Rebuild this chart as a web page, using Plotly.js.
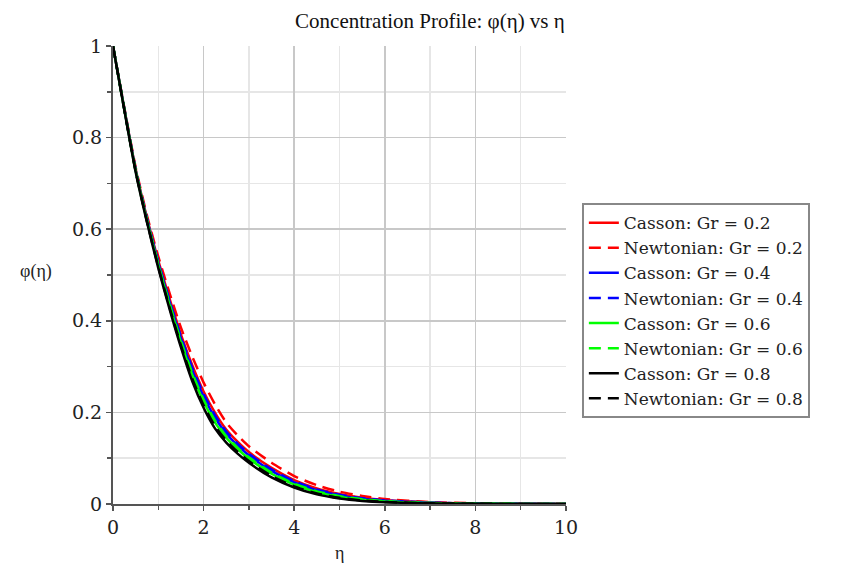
<!DOCTYPE html>
<html>
<head>
<meta charset="utf-8">
<script src="https://cdn.plot.ly/plotly-3.0.1.min.js"></script>
<style>html,body{margin:0;padding:0;background:#fff;}#chart{width:848px;height:567px;}</style>
</head>
<body>
<div id="chart"></div>
<script>
const eta = [0, 0.25, 0.5, 0.75, 1, 1.25, 1.5, 1.75, 2, 2.25, 2.5, 2.75, 3, 3.5, 4, 4.5, 5, 5.5, 6, 7, 8, 9, 10];

const cassonGr02    = [1, 0.8633, 0.7315, 0.6248, 0.5313, 0.4478, 0.3700, 0.3031, 0.2458, 0.1995, 0.1626, 0.136, 0.1134, 0.0788, 0.0523, 0.034, 0.0218, 0.0138, 0.0085, 0.0032, 0.0011, 0.0004, 0];
const newtonianGr02 = [1, 0.865, 0.735, 0.630, 0.540, 0.460, 0.385, 0.322, 0.265, 0.218, 0.178, 0.150, 0.126, 0.090, 0.061, 0.041, 0.027, 0.0175, 0.011, 0.0042, 0.0015, 0.0005, 0];
const cassonGr04    = [1, 0.8623, 0.7295, 0.6218, 0.5263, 0.4408, 0.3614, 0.2923, 0.2348, 0.1889, 0.1538, 0.128, 0.1062, 0.0724, 0.0473, 0.030, 0.0188, 0.0116, 0.007, 0.0026, 0.0009, 0.0003, 0];
const newtonianGr04 = [1, 0.8628, 0.7305, 0.6233, 0.5288, 0.4443, 0.3657, 0.2977, 0.2403, 0.1942, 0.1582, 0.132, 0.1098, 0.0756, 0.0498, 0.032, 0.0203, 0.0127, 0.0078, 0.0029, 0.0010, 0.0003, 0];
const cassonGr06    = [1, 0.8613, 0.7275, 0.6188, 0.5213, 0.4338, 0.3528, 0.2815, 0.2238, 0.1783, 0.145, 0.120, 0.099, 0.066, 0.0423, 0.026, 0.0158, 0.0095, 0.0056, 0.002, 0.0007, 0.0002, 0];
const newtonianGr06 = [1, 0.8617, 0.7283, 0.620, 0.5233, 0.4366, 0.3562, 0.2858, 0.2282, 0.1825, 0.1485, 0.1232, 0.1019, 0.0686, 0.0443, 0.0276, 0.017, 0.0103, 0.0062, 0.0022, 0.0008, 0.0002, 0];
const cassonGr08    = [1, 0.860, 0.725, 0.615, 0.515, 0.425, 0.342, 0.268, 0.210, 0.165, 0.134, 0.110, 0.090, 0.058, 0.036, 0.021, 0.012, 0.0068, 0.0038, 0.0012, 0.0004, 0.0001, 0];
const newtonianGr08 = [1, 0.8605, 0.726, 0.6165, 0.5175, 0.4285, 0.3463, 0.2734, 0.2155, 0.1703, 0.1384, 0.114, 0.0936, 0.0612, 0.0385, 0.023, 0.0135, 0.0079, 0.0045, 0.0015, 0.0005, 0.0001, 0];

const seriesNames = ["Casson: Gr = 0.2", "Newtonian: Gr = 0.2", "Casson: Gr = 0.4", "Newtonian: Gr = 0.4",
                     "Casson: Gr = 0.6", "Newtonian: Gr = 0.6", "Casson: Gr = 0.8", "Newtonian: Gr = 0.8"];
const seriesValues = [cassonGr02, newtonianGr02, cassonGr04, newtonianGr04, cassonGr06, newtonianGr06, cassonGr08, newtonianGr08];
const seriesColors = ["#ff0000", "#ff0000", "#0000ff", "#0000ff", "#00ff00", "#00ff00", "#000000", "#000000"];
const seriesDash = ["solid", "12px,7px", "solid", "12px,7px", "solid", "12px,7px", "solid", "12px,7px"];

const traces = seriesValues.map((vals, i) => ({
  x: eta, y: vals, type: "scatter", mode: "lines", name: seriesNames[i],
  line: {color: seriesColors[i], width: 2.5, dash: seriesDash[i], shape: "spline", smoothing: 0.6}
}));

const tickFont = {family: "DejaVu Serif", size: 19, color: "#222"};

const layout = {
  width: 848, height: 567,
  margin: {l: 113, r: 282, t: 46, b: 63},
  paper_bgcolor: "#fff", plot_bgcolor: "#fff",
  title: {text: "Concentration Profile: φ(η) vs η", font: {family: "Liberation Serif", size: 21, color: "#111"},
          x: 0.507, xref: "container", xanchor: "center", y: 0.963, yref: "container", yanchor: "middle"},
  xaxis: {range: [0, 10], dtick: 2, tick0: 0, showgrid: true, gridcolor: "#c8c8c8", gridwidth: 1.5,
          zeroline: false, showline: true, linecolor: "#555", linewidth: 2,
          ticks: "outside", ticklen: 5, tickcolor: "#555", tickwidth: 1.5, tickfont: tickFont,
          minor: {dtick: 1, showgrid: true, gridcolor: "#e6e6e6", gridwidth: 1.5, ticks: "outside", ticklen: 4, tickcolor: "#555"}},
  yaxis: {range: [0, 1], dtick: 0.2, tick0: 0, showgrid: true, gridcolor: "#c8c8c8", gridwidth: 1.5,
          zeroline: false, showline: true, linecolor: "#555", linewidth: 2,
          ticks: "outside", ticklen: 5, tickcolor: "#555", tickwidth: 1.5, tickfont: tickFont,
          minor: {dtick: 0.1, showgrid: true, gridcolor: "#e6e6e6", gridwidth: 1.5, ticks: "outside", ticklen: 4, tickcolor: "#555"}},
  showlegend: true,
  legend: {x: 1.035, xanchor: "left", y: 0.657, yanchor: "top", bgcolor: "#fff",
           bordercolor: "#888", borderwidth: 2, font: {family: "DejaVu Serif", size: 17, color: "#222"},
           tracegroupgap: 0},
  annotations: [
    {text: "η", xref: "paper", yref: "paper", x: 0.5, y: -0.107, xanchor: "center", yanchor: "middle",
     showarrow: false, font: {family: "Liberation Serif", size: 18, color: "#222"}},
    {text: "φ(η)", xref: "paper", yref: "paper", x: -0.17, y: 0.507, xanchor: "center", yanchor: "middle",
     showarrow: false, font: {family: "Liberation Serif", size: 18, color: "#222"}}
  ]
};

Plotly.newPlot("chart", traces, layout, {displayModeBar: false, staticPlot: true});
</script>
</body>
</html>
